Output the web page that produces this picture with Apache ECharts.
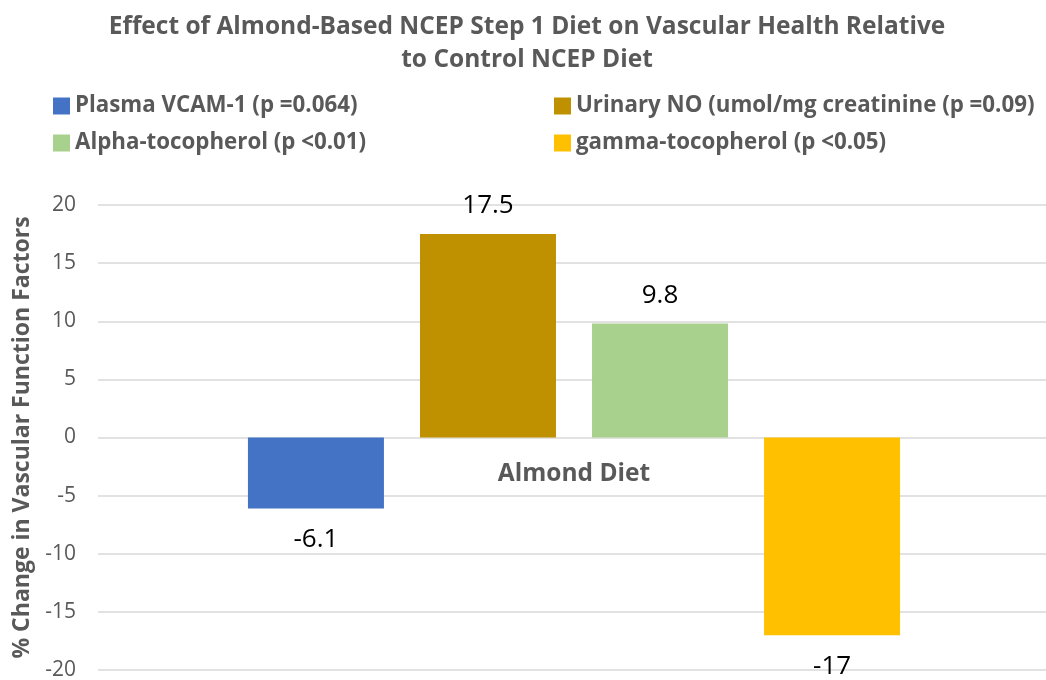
<!DOCTYPE html>
<html>
<head>
<meta charset="utf-8">
<script src="https://cdn.jsdelivr.net/npm/echarts@6/dist/echarts.min.js"></script>
<style>
  html, body { margin: 0; padding: 0; background: #fff; }
  #chart { width: 1046px; height: 680px; }
</style>
</head>
<body>
<div id="chart"></div>
<script>
const categories = ['Almond Diet'];
const seriesNames = [
    'Plasma VCAM-1 (p =0.064)',
    'Urinary NO (umol/mg creatinine (p =0.09)',
    'Alpha-tocopherol (p <0.01)',
    'gamma-tocopherol (p <0.05)'
];
const seriesValues = [[-6.1], [17.5], [9.8], [-17]];
const seriesColors = ['#4472C4', '#BF9000', '#A9D18E', '#FFC000'];

const font = '"Open Sans", sans-serif';
const grey = '#595959';

const chart = echarts.init(document.getElementById('chart'));

const series = seriesNames.map(function(name, i) {
    return {
        name: name,
        type: 'bar',
        barWidth: 136,
        barGap: '26.5%',
        itemStyle: { color: seriesColors[i] },
        data: seriesValues[i].map(function(v) {
            return {
                value: v,
                label: { position: v < 0 ? 'bottom' : 'top', distance: v < 0 ? 18 : 15 }
            };
        }),
        label: {
            show: true,
            color: '#000',
            fontFamily: font,
            fontSize: 26
        }
    };
});

const legendText = { color: grey, fontFamily: font, fontSize: 22.3, fontWeight: 'bold' };

const option = {
    animation: false,
    title: {
        text: 'Effect of Almond-Based NCEP Step 1 Diet on Vascular Health Relative\nto Control NCEP Diet',
        left: 522,
        textAlign: 'center',
        top: 6,
        textStyle: { color: grey, fontFamily: font, fontSize: 24.5, fontWeight: 'bold', lineHeight: 33 }
    },
    legend: [{
        left: 48,
        top: 90,
        orient: 'vertical',
        itemGap: 15,
        itemWidth: 17,
        itemHeight: 17,
        icon: 'rect',
        data: [seriesNames[0], seriesNames[2]],
        textStyle: legendText
    }, {
        left: 549,
        top: 90,
        orient: 'vertical',
        itemGap: 15,
        itemWidth: 17,
        itemHeight: 17,
        icon: 'rect',
        data: [seriesNames[1], seriesNames[3]],
        textStyle: legendText
    }],
    grid: {
        left: 98,
        top: 205,
        width: 952,
        height: 465,
        containLabel: false,
        outerBoundsMode: 'none'
    },
    xAxis: {
        type: 'category',
        data: categories,
        offset: -232.5,
        axisLine: { show: false, onZero: false },
        axisTick: { show: false },
        axisLabel: {
            margin: 24,
            color: grey,
            fontFamily: font,
            fontSize: 24.5,
            fontWeight: 'bold'
        }
    },
    yAxis: {
        type: 'value',
        min: -20,
        max: 20,
        interval: 5,
        name: '% Change in Vascular Function Factors',
        nameLocation: 'middle',
        nameGap: 57,
        nameTextStyle: { color: grey, fontFamily: font, fontSize: 23, fontWeight: 'bold' },
        axisLine: { show: false },
        axisTick: { show: false },
        axisLabel: { color: grey, fontFamily: font, fontSize: 21, margin: 22 },
        splitLine: { lineStyle: { color: '#d9d9d9', width: 1.5 } }
    },
    series: series
};

chart.setOption(option);
</script>
</body>
</html>
